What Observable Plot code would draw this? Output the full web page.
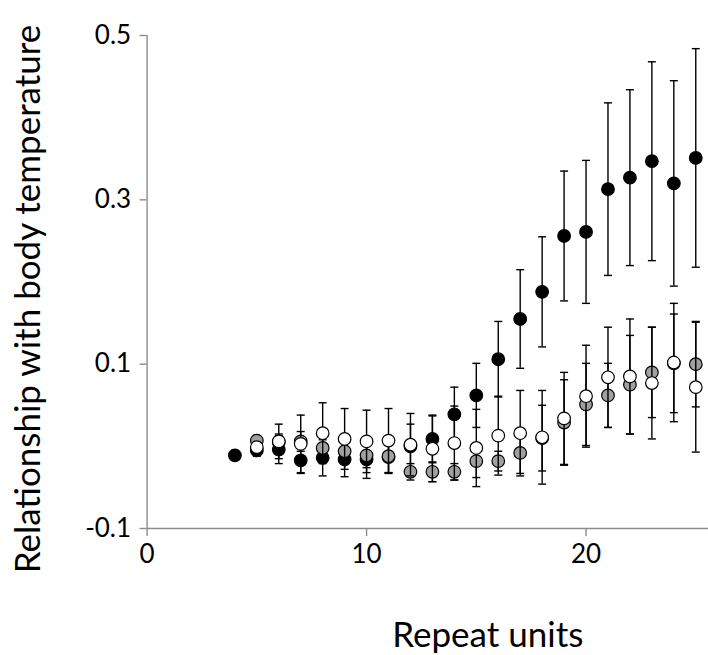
<!DOCTYPE html>
<html>
<head>
<meta charset="utf-8">
<script src="https://cdn.jsdelivr.net/npm/d3@7"></script>
<script src="https://cdn.jsdelivr.net/npm/@observablehq/plot@0.6"></script>
<style>
  html, body { margin: 0; padding: 0; background: #fff; }
  #chart svg { display: block; }
</style>
</head>
<body>
<div id="chart"></div>
<script>
// Repeat units on the x axis
const repeatUnits = [4, 5, 6, 7, 8, 9, 10, 11, 12, 13, 14, 15, 16, 17, 18, 19, 20, 21, 22, 23, 24, 25];

// Black series: mean and half-width of the error bar
const blackMean = [-0.011, -0.005, -0.004, -0.017, -0.014, -0.016, -0.016, -0.013, 0.000, 0.009, 0.039, 0.062, 0.106, 0.155, 0.188, 0.256, 0.261, 0.313, 0.327, 0.347, 0.320, 0.351];
const blackErr  = [0.006, 0.007, 0.017, 0.016, 0.022, 0.021, 0.023, 0.020, 0.027, 0.029, 0.033, 0.039, 0.046, 0.060, 0.067, 0.079, 0.087, 0.105, 0.107, 0.121, 0.125, 0.133];

// Grey series (no value at 4 repeat units)
const greyMean = [null, 0.007, 0.005, 0.006, -0.002, -0.006, -0.011, -0.012, -0.031, -0.031, -0.031, -0.018, -0.018, -0.008, 0.010, 0.029, 0.051, 0.062, 0.075, 0.090, 0.101, 0.100];
const greyErr  = [null, 0.006, 0.010, 0.012, 0.015, 0.015, 0.015, 0.020, 0.010, 0.012, 0.010, 0.020, 0.012, 0.025, 0.040, 0.052, 0.050, 0.039, 0.060, 0.055, 0.060, 0.052];

// White series (no value at 4 repeat units)
const whiteMean = [null, -0.001, 0.006, 0.003, 0.016, 0.009, 0.006, 0.007, 0.002, -0.003, 0.004, -0.002, 0.013, 0.016, 0.011, 0.034, 0.061, 0.084, 0.085, 0.077, 0.102, 0.072];
const whiteErr  = [null, 0.006, 0.021, 0.035, 0.037, 0.037, 0.038, 0.039, 0.038, 0.040, 0.045, 0.047, 0.048, 0.052, 0.057, 0.056, 0.062, 0.061, 0.070, 0.068, 0.072, 0.079];

// Axis ticks and titles
const xTicks = [0, 10, 20];
const yTicks = [-0.1, 0.1, 0.3, 0.5];
const xTitle = "Repeat units";
const yTitle = "Relationship with body temperature";

function rows(means, errs) {
  return repeatUnits
    .map((x, i) => ({x, y: means[i], lo: means[i] == null ? null : means[i] - errs[i], hi: means[i] == null ? null : means[i] + errs[i]}))
    .filter(d => d.y != null);
}

// A short horizontal stroke used as the error-bar cap
const capSymbol = {
  draw(ctx, size) {
    const w = Math.sqrt(size / Math.PI);
    ctx.moveTo(-w, 0);
    ctx.lineTo(w, 0);
  }
};

function seriesMarks(data, fill) {
  return [
    Plot.ruleX(data, {x: "x", y1: "lo", y2: "hi", stroke: "#000", strokeWidth: 1.4}),
    Plot.dot(data, {x: "x", y: "hi", symbol: capSymbol, r: 4, stroke: "#000", strokeWidth: 1.4, fill: "none"}),
    Plot.dot(data, {x: "x", y: "lo", symbol: capSymbol, r: 4, stroke: "#000", strokeWidth: 1.4, fill: "none"}),
    Plot.dot(data, {x: "x", y: "y", r: 6.3, fill, stroke: "#000", strokeWidth: 1.2})
  ];
}

const axisColor = "#8c8c8c";

const chart = Plot.plot({
  width: 708,
  height: 655,
  marginLeft: 146.6,
  marginRight: 0,
  marginTop: 35,
  marginBottom: 127,
  x: {domain: [0, 25.58]},
  y: {domain: [-0.1, 0.5]},
  style: {fontFamily: "Lato, 'Open Sans', sans-serif", background: "#fff", color: "#000"},
  marks: [
    Plot.axisX({ticks: xTicks, tickSize: 8, tickPadding: 8, stroke: axisColor, strokeWidth: 1.4, fill: "#000", fontSize: 26, label: null}),
    Plot.axisY({ticks: yTicks, tickSize: 7, tickPadding: 9, tickFormat: d => d.toFixed(1), stroke: axisColor, strokeWidth: 1.4, fill: "#000", fontSize: 26, label: null}),
    Plot.ruleX([0], {stroke: axisColor, strokeWidth: 1.4}),
    Plot.ruleY([-0.1], {stroke: axisColor, strokeWidth: 1.4}),
    ...seriesMarks(rows(blackMean, blackErr), "#000"),
    ...seriesMarks(rows(greyMean, greyErr), "#a0a0a0"),
    ...seriesMarks(rows(whiteMean, whiteErr), "#fff"),
    Plot.text([xTitle], {frameAnchor: "bottom", textAnchor: "middle", lineAnchor: "middle", dx: 60, dy: 107, fontSize: 35, fill: "#000"}),
    Plot.text([yTitle], {frameAnchor: "left", textAnchor: "middle", lineAnchor: "middle", rotate: -90, dx: -118, dy: 17, fontSize: 35, fill: "#000"})
  ]
});

document.getElementById("chart").appendChild(chart);
</script>
</body>
</html>
